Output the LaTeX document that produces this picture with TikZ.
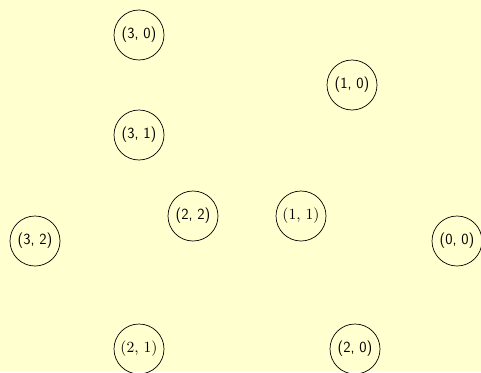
\documentclass[tikz,border=0pt]{standalone}
\usepackage{fontspec}
\definecolor{bg}{RGB}{255,255,208}
\newcommand{\serlab}[1]{\scalebox{1.55}{\rmfamily\fontsize{10}{12}\selectfont #1}}
\tikzset{
  st/.style={circle, draw=black, line width=0.7pt, minimum size=50pt, inner sep=0pt, font=\sffamily\fontsize{15.5}{18}\selectfont},
  sr/.style={st}
}
\begin{document}
\begin{tikzpicture}[x=1pt,y=-1pt]
\fill[bg] (0,0) rectangle (481,372);
\useasboundingbox (0,0) rectangle (481,372);
\node[st] (n30) at (139,35) {(3, 0)};
\node[st] (n10) at (352,85) {(1, 0)};
\node[st] (n31) at (139,135) {(3, 1)};
\node[st] (n22) at (193,216) {(2, 2)};
\node[sr] (n11) at (301,216) {\serlab{(1, 1)}};
\node[st] (n32) at (35,241) {(3, 2)};
\node[st] (n00) at (457,241) {(0, 0)};
\node[sr] (n21) at (139,349) {\serlab{(2, 1)}};
\node[st] (n20) at (355,349) {(2, 0)};
\end{tikzpicture}
\end{document}
